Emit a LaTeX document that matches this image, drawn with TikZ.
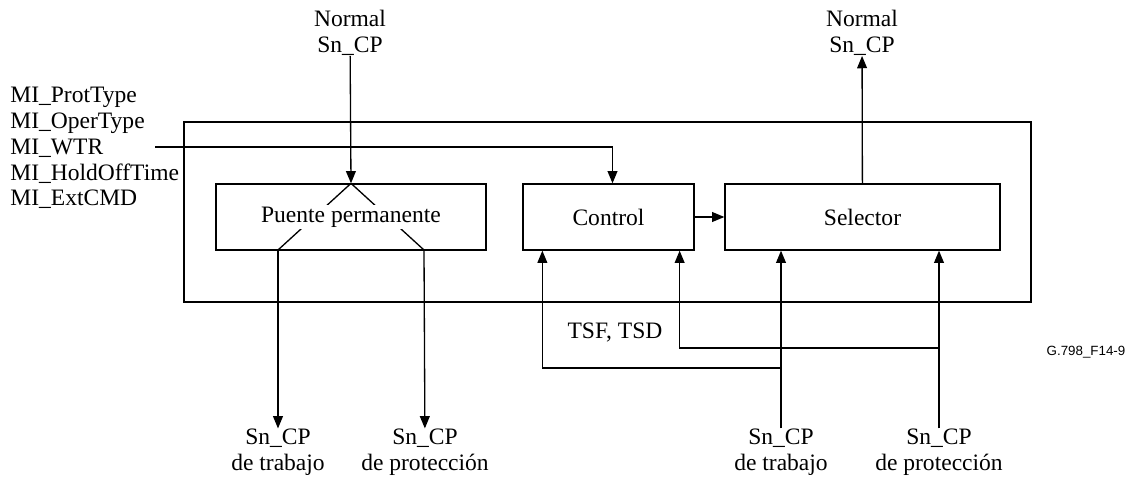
\documentclass[tikz,border=0pt]{standalone}
\usepackage{fontspec}
\setmainfont{Liberation Serif}
\newfontfamily\labelsans{Liberation Sans}
\usetikzlibrary{positioning,arrows.meta,calc}

\begin{document}
\begin{tikzpicture}[
          x=0.02cm, y=-0.02cm,
          every node/.style={font=\fontsize{13.4}{14.7}\selectfont},
          block/.style={draw, line width=0.75pt, minimum height=1.32cm, inner sep=0pt},
          sig/.style={align=center, inner sep=0pt},
          arr/.style={-{Triangle[length=7pt,width=5.6pt]}, line width=0.75pt},
          wire/.style={line width=0.75pt}
      ]
        \useasboundingbox (0,0) rectangle (1140,483);
        % outer frame of the function
        \draw[wire] (184,122) rectangle (1031,302);
        \node[block, minimum width=5.4cm] (puente) at (351,217) {};
        \node[block, minimum width=3.42cm] (control) at (608.5,217) {Control};
        \node[block, minimum width=5.5cm] (selector) at (862.5,217) {Selector};
        % signals
        \node[sig] (normin) at (350,33) {Normal\\Sn\_CP};
        \node[sig] (normout) at (862,33) {Normal\\Sn\_CP};
        \node[sig, anchor=west, align=left] (mi) at (10,148) {MI\_ProtType\\MI\_OperType\\MI\_WTR\\MI\_HoldOffTime\\MI\_ExtCMD};
        \node[sig] (worka) at (278,452) {Sn\_CP\\de trabajo};
        \node[sig] (prota) at (425,452) {Sn\_CP\\de protección};
        \node[sig] (workb) at (781,452) {Sn\_CP\\de trabajo};
        \node[sig] (protb) at (939,452) {Sn\_CP\\de protección};
        \node[sig] (tsf) at (615,333) {TSF, TSD};
        \node[sig, font=\labelsans\fontsize{7.6}{9}\selectfont] (fig) at (1086,352) {G.798\_F14-9};
        % junction points
        \coordinate (wtr) at (155,147);
        \coordinate (pl) at (278,250);
        \coordinate (pr) at (424,250);
        \coordinate (ja) at (781,368);
        \coordinate (jb) at (939,348);
        % connectors
        \draw[arr] (normin) -- (puente.north);
        \draw[wire] (puente.north) -- (pl);
        \draw[wire] (puente.north) -- (pr);
        \draw[arr] (pl) -- (worka);
        \draw[arr] (pr) -- (prota);
        \node[fill=white, inner sep=1pt] at (puente) {Puente permanente};
        \draw[arr] (wtr) -| ($(control.north)+(4,0)$);
        \draw[arr] (control) -- (selector);
        \draw[arr] (selector) -- (normout);
        \draw[arr] (workb) -- (selector.south -| workb);
        \draw[arr] (protb) -- (selector.south -| protb);
        \draw[arr] (ja) -| ($(control.south west)+(20,0)$);
        \draw[arr] (jb) -| ($(control.south east)+(-15,0)$);
      \end{tikzpicture}
\end{document}
